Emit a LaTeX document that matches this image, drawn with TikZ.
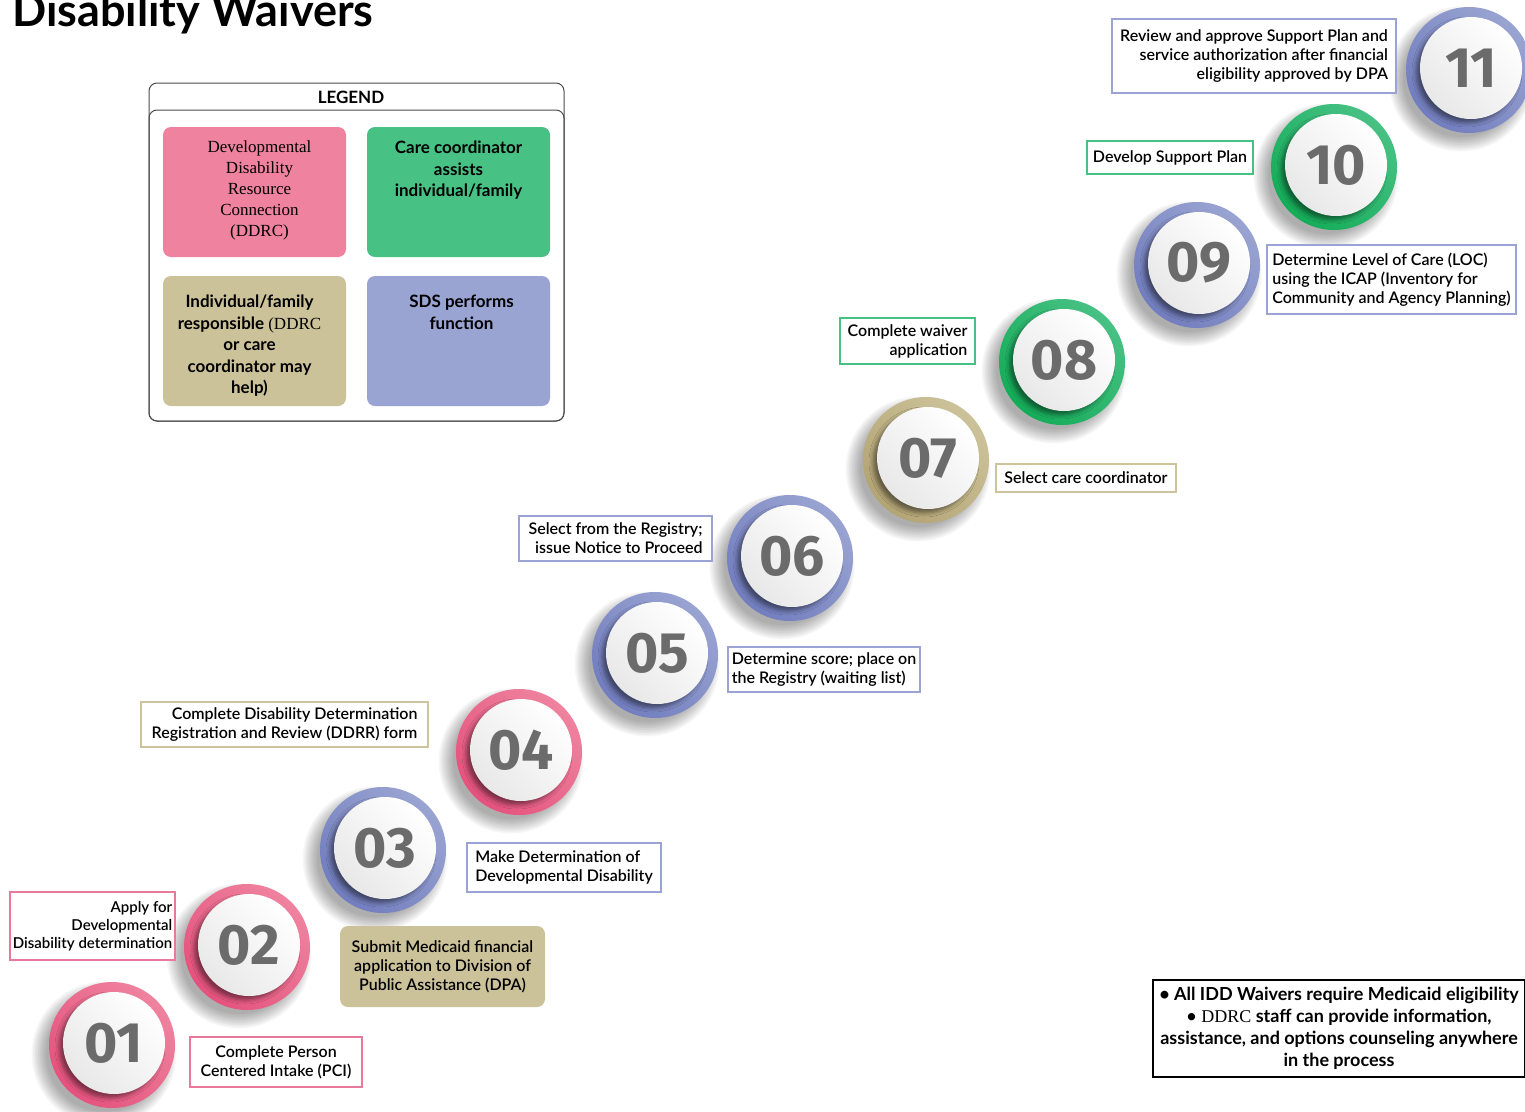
\documentclass[tikz,border=0pt]{standalone}
\usepackage{fontspec}
\IfFontExistsTF{Lato Semibold}
  {\setmainfont{Lato Semibold}[BoldFont=Lato Bold]}
  {\setmainfont{Lato}[UprightFeatures={FakeBold=0.5}]}
\newfontfamily\serif{Liberation Serif}
\newfontfamily\numfont{Fira Sans}
\usetikzlibrary{shadows.blur,backgrounds,calc}
\definecolor{pinkL}{HTML}{EF839F}
\definecolor{pinkD}{HTML}{E4527D}
\definecolor{greenL}{HTML}{48C184}
\definecolor{greenD}{HTML}{14AC58}
\definecolor{tanL}{HTML}{CCC29A}
\definecolor{tanD}{HTML}{B3A474}
\definecolor{blueL}{HTML}{9AA4D2}
\definecolor{blueD}{HTML}{717DBE}
\definecolor{numgray}{HTML}{6B6B6B}
\definecolor{bpink}{HTML}{E8799A}
\definecolor{bblue}{HTML}{9AA3D3}
\definecolor{btan}{HTML}{CDC39C}
\definecolor{bgreen}{HTML}{47C083}
\tikzset{
  stepring/.style 2 args={circle, minimum size=126pt, inner sep=0pt,
    top color=#1, bottom color=#2, shading angle=135},
  stepdisk/.style={circle, minimum size=102pt, inner sep=0pt,
    top color=white, bottom color=black!9, shading angle=-45, text=numgray,
    font=\numfont\bfseries\fontsize{57}{57}\selectfont,
    blur shadow={shadow xshift=-4pt, shadow yshift=-4pt, shadow blur radius=4pt, shadow opacity=45}},
  softshade/.style={fill=black, fill opacity=0.035},
  lbox/.style={draw=#1, line width=2pt, fill=white, inner xsep=4pt, inner ysep=2pt,
    font=\fontsize{16}{19}\selectfont},
  conn/.style={draw=#1, line width=2pt},
  legbox/.style={fill=#1, rounded corners=8pt, minimum width=183pt, minimum height=130pt, inner sep=0pt},
  legtext/.style={anchor=north, align=center, inner sep=0pt, font=\bfseries\fontsize{17}{21.5}\selectfont},
}
\newcommand\stepcircle[5]{%
  \foreach \k in {0,...,9}{\fill[softshade] (#2-8,#3+9) circle[radius=58+1.6*\k];}
  \node[stepring={#4}{#5}] (c#1) at (#2,#3) {};
  \node[stepdisk] (d#1) at ($(c#1)+(2,-2)$) {#1};
}
\begin{document}
\begin{tikzpicture}[x=1pt,y=-1pt]
\useasboundingbox[fill=white] (0,0) rectangle (1525,1111);

% title
\node[anchor=base west, inner sep=0pt, font=\bfseries\fontsize{45}{45}\selectfont] (title) at (12,26) {Disability Waivers};

% legend
\node[draw=black!70, line width=1pt, rounded corners=8pt, minimum width=415pt, minimum height=338pt, inner sep=0pt] (legend) at (356.5,252) {};
\node[draw=black!70, line width=1pt, rounded corners=8pt, minimum width=415pt, minimum height=311pt, inner sep=0pt] (legendbody) at (356.5,265.5) {};
\node[font=\bfseries\fontsize{17}{17}\selectfont, inner sep=0pt] (legendhead) at (351,97) {LEGEND};
\node[legbox=pinkL] (lp) at (254.5,192) {};
\node[legbox=greenL] (lg) at (458.5,192) {};
\node[legbox=tanL] (lt) at (254.5,341) {};
\node[legbox=blueL] (lb) at (458.5,341) {};
\node[legtext, font=\serif\fontsize{17}{21}\selectfont] (lpt) at ([xshift=5pt,yshift=-14pt]lp.north) {Developmental\\Disability\\Resource\\Connection\\(DDRC)};
\node[legtext] (lgt) at ([yshift=-14pt]lg.north) {Care coordinator\\assists\\individual/family};
\node[legtext] (ltt) at ([xshift=-5pt,yshift=-19pt]lt.north) {Individual/family\\responsible {\serif\mdseries (DDRC}\\or care\\coordinator may\\help)};
\node[legtext] (lbt) at ([xshift=3pt,yshift=-19pt]lb.north) {SDS performs\\function};

% circles
\stepcircle{01}{112}{1045}{pinkD}{pinkL}
\stepcircle{02}{247}{947}{pinkD}{pinkL}
\stepcircle{03}{383}{850}{blueD}{blueL}
\stepcircle{04}{519}{752}{pinkD}{pinkL}
\stepcircle{05}{655}{655}{blueD}{blueL}
\stepcircle{06}{790}{558}{blueD}{blueL}
\stepcircle{07}{926}{460}{tanD}{tanL}
\stepcircle{08}{1062}{362}{greenD}{greenL}
\stepcircle{09}{1197}{265}{blueD}{blueL}
\stepcircle{10}{1334}{167}{greenD}{greenL}
\stepcircle{11}{1469}{70}{blueD}{blueL}

% label boxes
\node[lbox=bpink, minimum width=172pt, minimum height=50pt, align=center] (b01) at (276,1062) {Complete Person\\Centered Intake (PCI)};
\node[lbox=bpink, minimum width=165pt, minimum height=68pt, align=right, inner xsep=3pt, font=\fontsize{15}{18}\selectfont] (b02) at (92.5,926) {Apply for\\Developmental\\Disability determination};
\node[lbox=bblue, minimum width=194pt, minimum height=49pt, align=left] (b03) at (564,867.5) {Make Determination of\\Developmental Disability};
\node[lbox=btan, minimum width=287pt, minimum height=45pt, align=right] (b04) at (284.5,724.5) {Complete Disability Determination\\Registration and Review (DDRR) form};
\node[lbox=bblue, minimum width=192pt, minimum height=45pt, align=left] (b05) at (824,669.5) {Determine score; place on\\the Registry (waiting list)};
\node[lbox=bblue, minimum width=193pt, minimum height=45pt, align=right] (b06) at (615.5,538.5) {Select from the Registry;\\issue Notice to Proceed};
\node[lbox=btan, minimum width=180pt, minimum height=28pt, align=center] (b07) at (1086,478) {Select care coordinator};
\node[lbox=bgreen, minimum width=135pt, minimum height=46pt, align=right] (b08) at (907.5,341) {Complete waiver\\application};
\node[lbox=bblue, minimum width=249pt, minimum height=69pt, align=left] (b09) at (1391.5,279.5) {Determine Level of Care (LOC)\\using the ICAP (Inventory for\\Community and Agency Planning)};
\node[lbox=bgreen, minimum width=166pt, minimum height=33pt, align=left] (b10) at (1170,157.5) {Develop Support Plan};
\node[lbox=bblue, minimum width=284pt, minimum height=74pt, align=right] (b11) at (1254,56) {Review and approve Support Plan and\\service authorization after financial\\eligibility approved by DPA};

% DPA box
\node[fill=tanL, rounded corners=8pt, minimum width=205pt, minimum height=81pt, inner sep=0pt, align=center, font=\fontsize{16}{19}\selectfont] (dpa) at (442.5,966.5) {Submit Medicaid financial\\application to Division of\\Public Assistance (DPA)};

% note
\node[draw=black, line width=2pt, minimum width=372pt, minimum height=97pt, inner sep=0pt, align=center, font=\bfseries\fontsize{18}{22}\selectfont] (note) at (1339,1028.5) {• All IDD Waivers require Medicaid eligibility\\{\mdseries •\serif\ DDRC} staff can provide information,\\assistance, and options counseling anywhere\\in the process};

% connectors
\begin{scope}[on background layer]
\draw[conn=bpink] (b01.west) -- (b01.west -| c01.center);
\draw[conn=bpink] (b02.east) -- (b02.east -| c02.center);
\draw[conn=bblue] (b03.west) -- (b03.west -| c03.center);
\draw[conn=btan] (b04.east) -- (b04.east -| c04.center);
\draw[conn=bblue] (b05.west) -- (b05.west -| c05.center);
\draw[conn=bblue] (b06.east) -- (b06.east -| c06.center);
\draw[conn=btan] (b07.west) -- (b07.west -| c07.center);
\draw[conn=bgreen] (b08.east) -- (b08.east -| c08.center);
\draw[conn=bblue] (b09.west) -- (b09.west -| c09.center);
\draw[conn=bgreen] (b10.east) -- (b10.east -| c10.center);
\draw[conn=bblue] (b11.east) -- (b11.east -| c11.center);
\end{scope}
\end{tikzpicture}
\end{document}
